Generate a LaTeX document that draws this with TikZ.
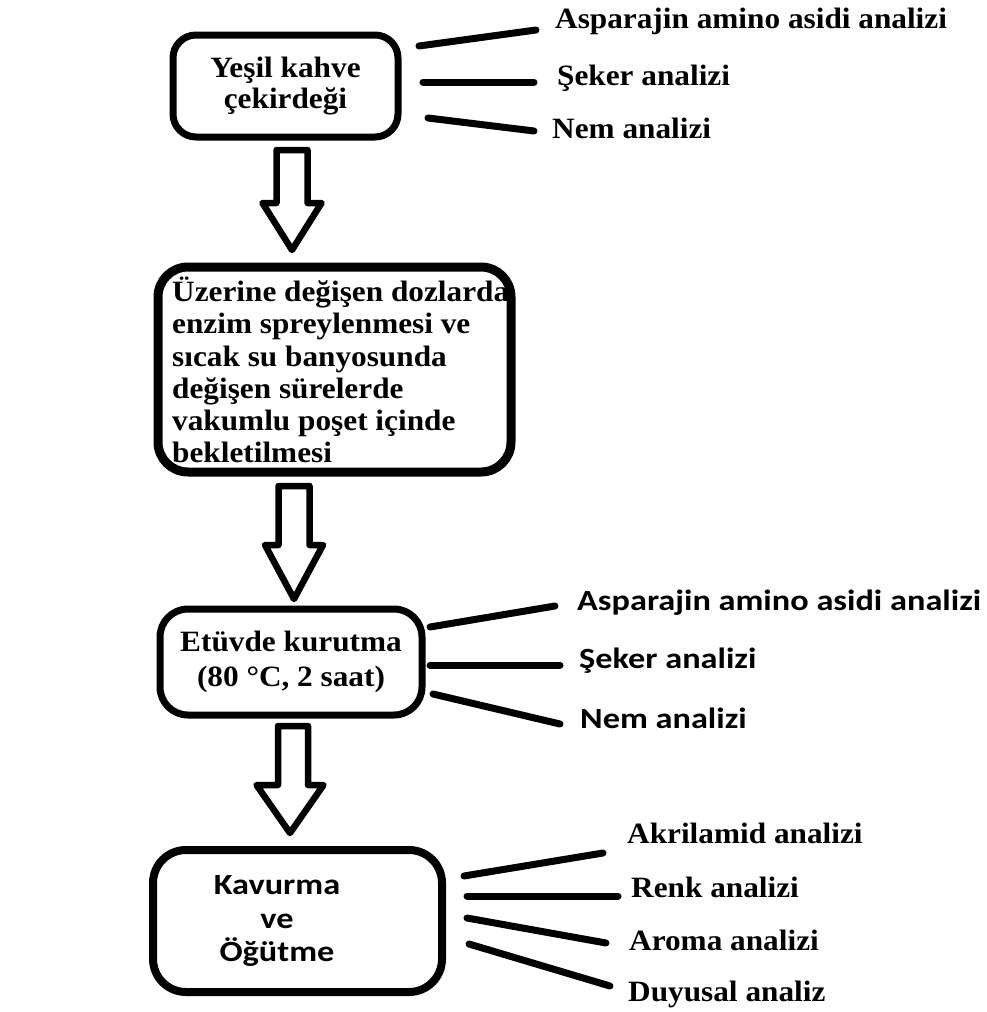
\documentclass[tikz,border=0pt]{standalone}
\usepackage{fontspec}
\usetikzlibrary{calc}
\newfontfamily\serifb{Liberation Serif}[FakeStretch=1.06]
\newfontfamily\sansb{Carlito}[FakeStretch=1.17]
\tikzset{
  box/.style={draw, line width=7, rounded corners=#1, outer sep=0, inner sep=0},
  serifbig/.style={font=\serifb\bfseries\fontsize{29.5}{31}\selectfont},
  lab/.style={anchor=base west, inner sep=0, font=\serifb\bfseries\fontsize{29.5}{31}\selectfont},
  slab/.style={anchor=base west, inner sep=0, font=\sansb\bfseries\fontsize{29.3}{33}\selectfont},
  conn/.style={line width=7, line cap=round},
  shaftw/.store in=\shaftw, headw/.store in=\headw, headl/.store in=\headl,
  blockarrow/.style={draw, line width=6.5, line join=round, fill=white,
    to path={let \p1=(\tikztostart), \p2=(\tikztotarget) in
      (\x1-\shaftw,\y1) -- (\x1+\shaftw,\y1) -- (\x1+\shaftw,\y2+\headl)
      -- (\x2+\headw,\y2+\headl) -- (\x2,\y2) -- (\x2-\headw,\y2+\headl)
      -- (\x1-\shaftw,\y2+\headl) -- cycle}}
}
\begin{document}
\begin{tikzpicture}[x=1pt,y=-1pt]
\useasboundingbox (0,0) rectangle (987,1012);

% boxes
\node[box=23, minimum width=225, minimum height=102, align=center, serifbig]
  (b1) at (285.5,86) {Yeşil kahve\\çekirdeği};
\node[box=30, line width=9, minimum width=353, minimum height=205]
  (b2) at (334.5,369.5) {};
\node[anchor=north west, inner sep=0, align=left,
  font=\serifb\bfseries\fontsize{29.5}{32.2}\selectfont] (b2t) at (172,277)
  {Üzerine değişen dozlarda\\enzim spreylenmesi ve\\sıcak su banyosunda\\değişen sürelerde\\vakumlu poşet içinde\\bekletilmesi};
\node[box=28, minimum width=262, minimum height=106, align=center,
  font=\serifb\bfseries\fontsize{29.5}{35}\selectfont]
  (b3) at (291,662) {Etüvde kurutma\\(80 °C, 2 saat)};
\node[box=33, line width=8, minimum width=289, minimum height=142]
  (b4) at (297.5,921) {};
\node[inner sep=0, align=center, font=\sansb\bfseries\fontsize{29.3}{33.5}\selectfont]
  (b4t) at (277,921) {Kavurma\\ve\\Öğütme};

% block arrows
\coordinate (a1s) at (292,150); \coordinate (a1e) at (292,250);
\coordinate (a2s) at (294,486); \coordinate (a2e) at (294,599);
\coordinate (a3s) at (293,726); \coordinate (a3e) at (290,833);
\draw[blockarrow, shaftw=15.5, headw=29.5, headl=47] (a1s) to (a1e);
\draw[blockarrow, shaftw=15.5, headw=29, headl=54] (a2s) to (a2e);
\draw[blockarrow, shaftw=15, headw=33.5, headl=48] (a3s) to (a3e);

% labels box 1
\node[lab] (l1a) at (555,28) {Asparajin amino asidi analizi};
\node[lab] (l1b) at (557,85) {Şeker analizi};
\node[lab] (l1c) at (552,138) {Nem analizi};
% labels box 3
\node[slab] (l3a) at (577,610) {Asparajin amino asidi analizi};
\node[slab] (l3b) at (579,668) {Şeker analizi};
\node[slab] (l3c) at (580,728) {Nem analizi};
% labels box 4
\node[lab] (l4a) at (627,843) {Akrilamid analizi};
\node[lab] (l4b) at (631,897) {Renk analizi};
\node[lab] (l4c) at (629,950) {Aroma analizi};
\node[lab] (l4d) at (628,1001) {Duyusal analiz};

% connectors
\draw[conn] ($(b1.east)+(21,-40)$) -- ($(l1a.base west)+(-19,2)$);
\draw[conn] ($(b1.east)+(25,-4)$) -- ($(l1b.base west)+(-23,-3)$);
\draw[conn] ($(b1.east)+(30,32)$) -- ($(l1c.base west)+(-18,-7)$);

\draw[conn] ($(b3.east)+(8,-35)$) -- ($(l3a.base west)+(-22,-4)$);
\draw[conn] ($(b3.east)+(8,3)$) -- ($(l3b.base west)+(-19,-3)$);
\draw[conn] ($(b3.east)+(11,32)$) -- ($(l3c.base west)+(-20,-4)$);

\draw[conn] ($(b4.east)+(22,-45)$) -- ($(l4a.base west)+(-24,10)$);
\draw[conn] ($(b4.east)+(25,-25)$) -- ($(l4b.base west)+(-13,-1)$);
\draw[conn] ($(b4.east)+(25,-3)$) -- ($(l4c.base west)+(-23,-7)$);
\draw[conn] ($(b4.east)+(27,23)$) -- ($(l4d.base west)+(-18,-15)$);
\end{tikzpicture}
\end{document}
